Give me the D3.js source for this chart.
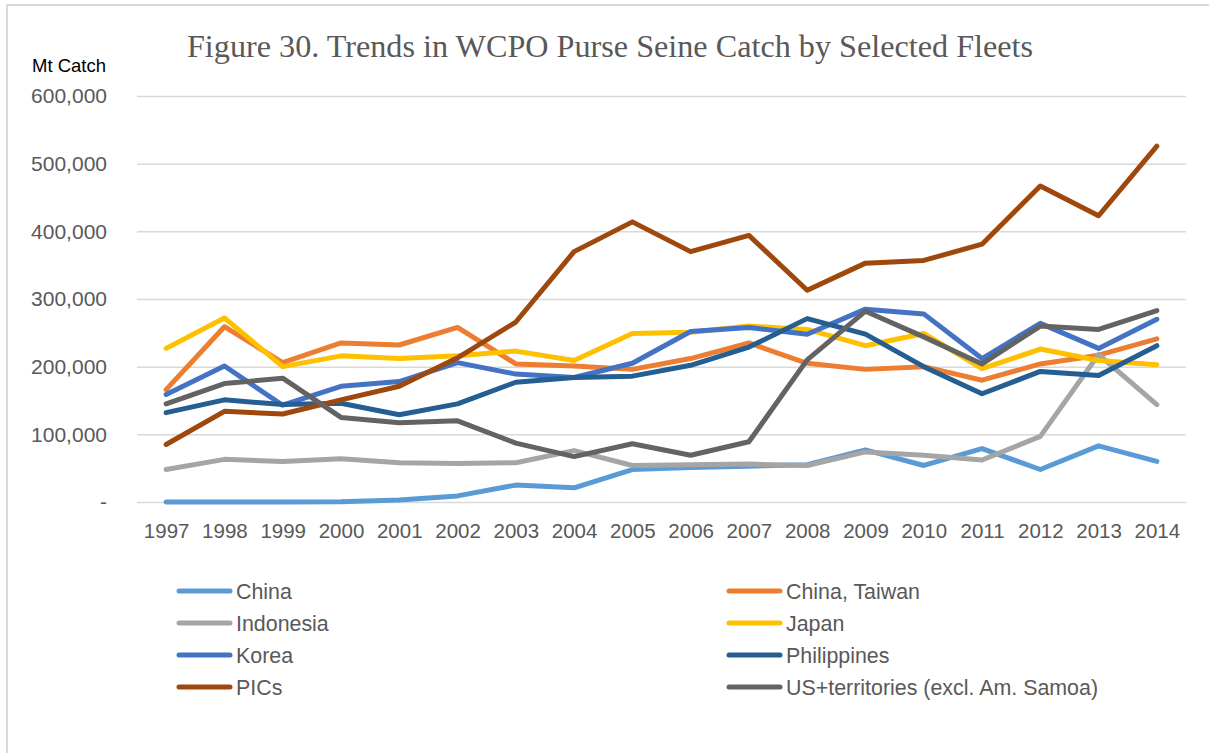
<!DOCTYPE html>
<html>
<head>
<meta charset="utf-8">
<script src="https://cdn.jsdelivr.net/npm/d3@7"></script>
<style>
  html, body { margin: 0; padding: 0; background: #fff; }
  svg { display: block; }
</style>
</head>
<body>
<svg id="chart" width="1209" height="753"></svg>
<script>
// Purse seine catch (metric tonnes) by fleet, 1997–2014
const years = ["1997","1998","1999","2000","2001","2002","2003","2004","2005",
               "2006","2007","2008","2009","2010","2011","2012","2013","2014"];

const china       = [0, 0, 0, 500, 3000, 9000, 25000, 21000, 48000, 51000, 53000, 55000, 77000, 54000, 79000, 48000, 83000, 60000];
const chinaTaiwan = [166000, 259000, 206000, 235000, 232000, 258000, 204000, 201000, 196000, 212000, 235000, 205000, 196000, 200000, 180000, 204000, 217000, 241000];
const indonesia   = [48000, 63000, 60000, 64000, 58000, 57000, 58000, 76000, 54000, 55000, 56000, 54000, 74000, 69000, 62000, 97000, 218000, 144000];
const japan       = [227000, 272000, 200000, 216000, 212000, 216000, 223000, 209000, 249000, 251000, 260000, 255000, 231000, 249000, 197000, 226000, 209000, 203000];
const korea       = [159000, 201000, 143000, 171000, 178000, 206000, 189000, 184000, 205000, 252000, 258000, 248000, 285000, 278000, 212000, 264000, 227000, 270000];
const philippines = [132000, 151000, 144000, 146000, 129000, 145000, 177000, 184000, 186000, 202000, 229000, 271000, 248000, 200000, 160000, 193000, 187000, 231000];
const pics        = [85000, 134000, 130000, 151000, 171000, 213000, 266000, 370000, 414000, 370000, 394000, 313000, 353000, 357000, 381000, 467000, 423000, 526000];
const usTerr      = [145000, 175000, 183000, 125000, 117000, 120000, 87000, 67000, 86000, 69000, 89000, 210000, 282000, 244000, 204000, 260000, 255000, 283000];

const seriesNames  = ["China", "China, Taiwan", "Indonesia", "Japan", "Korea", "Philippines", "PICs", "US+territories (excl. Am. Samoa)"];
const seriesValues = [china, chinaTaiwan, indonesia, japan, korea, philippines, pics, usTerr];
const seriesColors = ["#5B9BD5", "#ED7D31", "#A5A5A5", "#FFC000", "#4472C4", "#255E91", "#9E480E", "#636363"];

const yTicks = [0, 100000, 200000, 300000, 400000, 500000, 600000];

const series = seriesNames.map((name, i) => ({ name, values: seriesValues[i], color: seriesColors[i] }));

const svg = d3.select("#chart");
const W = 1209, H = 753;
const plot = { left: 137, right: 1186, top: 96, bottom: 502 };

const textColor = "#595959";
const sans = "'Liberation Sans', Arial, sans-serif";

// frame edges
svg.append("line").attr("x1", 7).attr("x2", 7).attr("y1", 4).attr("y2", H)
  .attr("stroke", "#D9D9D9").attr("stroke-width", 2);
svg.append("line").attr("x1", 6).attr("x2", W).attr("y1", 5).attr("y2", 5)
  .attr("stroke", "#D9D9D9").attr("stroke-width", 2);

const x = d3.scalePoint().domain(years).range([plot.left, plot.right]).padding(0.5);
const y = d3.scaleLinear().domain([0, 600000]).range([plot.bottom, plot.top]);

// title
svg.append("text")
  .attr("x", 610).attr("y", 57)
  .attr("text-anchor", "middle")
  .attr("font-family", "'Liberation Serif', 'Times New Roman', serif")
  .attr("font-size", 32.2)
  .attr("fill", textColor)
  .text("Figure 30. Trends in WCPO Purse Seine Catch by Selected Fleets");

// y-axis unit label
svg.append("text")
  .attr("x", 32).attr("y", 72)
  .attr("font-family", sans)
  .attr("font-size", 18.5)
  .attr("fill", "#000")
  .text("Mt Catch");

// horizontal gridlines + y labels
const yAxis = d3.axisLeft(y)
  .tickValues(yTicks)
  .tickSize(-(plot.right - plot.left))
  .tickPadding(30)
  .tickFormat(d => d === 0 ? "-" : d3.format(",")(d));

const gy = svg.append("g").attr("transform", `translate(${plot.left},0)`).call(yAxis);
gy.select(".domain").remove();
gy.selectAll(".tick line").attr("stroke", "#D9D9D9").attr("stroke-width", 1.5);
gy.selectAll(".tick text")
  .attr("font-family", sans).attr("font-size", 21).attr("fill", textColor);

// x axis labels
const xAxis = d3.axisBottom(x).tickSize(0).tickPadding(21);
const gx = svg.append("g").attr("transform", `translate(0,${plot.bottom})`).call(xAxis);
gx.select(".domain").remove();
gx.selectAll(".tick text")
  .attr("font-family", sans).attr("font-size", 20.5).attr("fill", textColor);

// series lines
const line = d3.line()
  .x((d, i) => x(years[i]))
  .y(d => y(d));

svg.append("g").selectAll("path")
  .data(series)
  .join("path")
  .attr("d", d => line(d.values))
  .attr("fill", "none")
  .attr("stroke", d => d.color)
  .attr("stroke-width", 5)
  .attr("stroke-linejoin", "round")
  .attr("stroke-linecap", "round");

// legend, two columns
const legendCols = [177, 727];
const legendRows = [591, 623, 655, 687];
const legend = svg.append("g").selectAll("g")
  .data(series)
  .join("g")
  .attr("transform", (d, i) => `translate(${legendCols[i % 2]},${legendRows[Math.floor(i / 2)]})`);

legend.append("line")
  .attr("x1", 2).attr("x2", 53).attr("y1", 0).attr("y2", 0)
  .attr("stroke", d => d.color)
  .attr("stroke-width", 5)
  .attr("stroke-linecap", "round");

legend.append("text")
  .attr("x", 59).attr("y", 0)
  .attr("dy", "0.35em")
  .attr("font-family", sans)
  .attr("font-size", 21.4)
  .attr("fill", textColor)
  .text(d => d.name);
</script>
</body>
</html>
